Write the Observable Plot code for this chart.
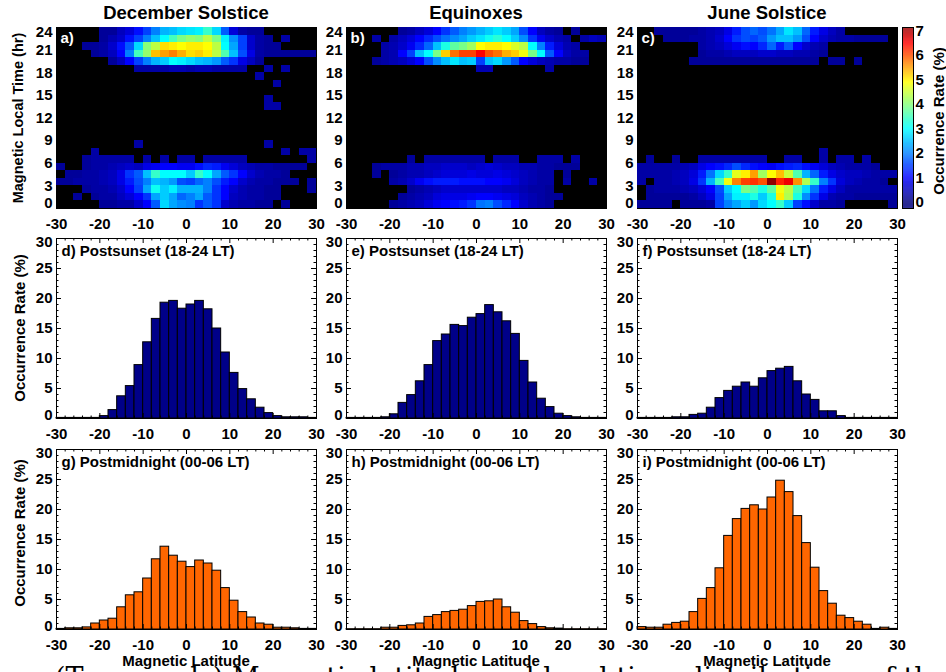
<!DOCTYPE html>
<html><head><meta charset="utf-8">
<script src="https://cdn.jsdelivr.net/npm/d3@7"></script>
<script src="https://cdn.jsdelivr.net/npm/@observablehq/plot@0.6"></script>
<style>
html,body{margin:0;padding:0;background:#fff;}
body{width:946px;height:672px;overflow:hidden;position:relative;}
#root{position:relative;width:946px;height:672px;overflow:hidden;}
.lbl{position:absolute;font-family:"Liberation Sans",Arial,sans-serif;font-weight:bold;line-height:1;white-space:nowrap;color:#000;transform:translate(-50%,-50%);}
.cap{position:absolute;font-family:"DejaVu Serif","Liberation Serif",serif;line-height:1;white-space:nowrap;color:#000;}
</style></head><body><div id="root"></div>
<script>
// ---------------- data ----------------
const latBins = [-30,-28,-26,-24,-22,-20,-18,-16,-14,-12,-10,-8,-6,-4,-2,0,2,4,6,8,10,12,14,16,18,20,22,24,26,28];
const latTicks = [-30,-20,-10,0,10,20,30];
const mltTicks = [0,3,6,9,12,15,18,21,24];
const rateTicks = [0,5,10,15,20,25,30];
const cbTicks = [0,1,2,3,4,5,6,7];
const seasons = ["December Solstice","Equinoxes","June Solstice"];
const mapLabels = ["a)","b)","c)"];
const sunsetLabels = ["d) Postsunset (18-24 LT)","e) Postsunset (18-24 LT)","f) Postsunset (18-24 LT)"];
const midnightLabels = ["g) Postmidnight (00-06 LT)","h) Postmidnight (00-06 LT)","i) Postmidnight (00-06 LT)"];

// occurrence rate (%) per 2-degree magnetic latitude bin
const postsunsetDec = [0.1,0.1,0.1,0.1,0.1,0.4,1.4,3.7,5.4,8.9,12.7,16.6,19.3,19.6,18.3,19.0,19.6,18.2,15.0,11.0,7.6,4.9,3.2,1.8,0.9,0.4,0.2,0.2,0.2,0.1];
const postsunsetEqx = [0.1,0.1,0.1,0.1,0.2,0.7,2.6,3.9,6.2,8.9,12.9,14.0,15.6,15.4,16.8,17.4,18.9,17.7,16.2,14.1,9.6,6.0,3.3,1.9,0.8,0.4,0.2,0.1,0.1,0.1];
const postsunsetJun = [0.1,0.1,0.1,0.1,0.2,0.2,0.6,0.8,1.8,3.4,4.6,5.3,6.0,5.3,6.7,7.9,8.3,8.6,6.2,4.0,3.1,1.2,1.2,0.4,0.1,0.1,0.1,0.1,0.1,0.1];
const postmidnightDec = [0.1,0.2,0.2,0.35,1.0,1.5,1.8,3.7,5.7,6.2,8.5,11.7,13.8,12.3,11.3,10.4,11.5,11.0,9.8,6.9,4.8,2.9,2.0,1.0,0.8,0.3,0.3,0.2,0.1,0.1];
const postmidnightEqx = [0.05,0.05,0.05,0.05,0.3,0.3,0.6,0.7,1.0,2.1,2.4,2.9,3.1,3.3,3.9,4.6,4.7,5.0,3.7,2.8,1.4,0.9,0.4,0.2,0.15,0.05,0.05,0.05,0.05,0.05];
const postmidnightJun = [0.4,0.3,0.3,0.8,1.1,1.3,2.9,5.1,6.9,10.2,15.6,18.4,20.1,20.7,20.0,22.0,24.8,22.9,18.9,14.4,10.3,6.4,4.3,2.3,1.9,1.3,0.8,0.1,0.3,0.1];

// occurrence rate (%) maps: [MLT hour bin, values per latitude bin]; 0 = no data
const decSolsticeMap = [
 [23,[0,0,0,0,0,0.2,0.2,0.5,0.7,1.1,1.5,2.0,2.4,2.5,2.7,2.8,2.9,3.4,2.7,1.7,0.7,0.3,0.2,0.2,0,0,0,0,0,0]],
 [22,[0,0,0,0,0,0.2,0.4,0.6,1.1,1.5,2.0,2.5,3.0,3.5,3.9,4.1,4.0,4.4,3.9,2.9,2.1,1.5,0.6,0.3,0.2,0,0.3,0,0,0]],
 [21,[0,0,0,0.2,0.2,0.3,0.6,1.1,1.7,2.7,4.0,4.4,5.1,5.0,4.9,5.0,5.0,4.9,4.4,3.0,2.3,1.5,0.6,0.3,0.2,0.2,0,0,0,0]],
 [20,[0,0,0,0,0.2,0.3,0.5,1.0,2.0,3.5,4.1,5.3,5.5,5.7,5.4,5.1,5.2,5.0,4.4,3.6,2.5,1.6,0.8,0.3,0.2,0.2,0.2,0.2,0.2,0.2]],
 [19,[0,0,0,0,0,0,0.2,0.5,1.0,1.5,2.0,2.4,2.6,3.0,2.9,2.7,2.5,2.4,2.2,1.7,1.4,0.8,0.5,0.2,0,0,0,0,0,0]],
 [18,[0,0,0,0,0,0,0,0,0,0.3,0.3,0.3,0.3,0.4,0.4,0.3,0.4,0.4,0.3,0.3,0.3,0.3,0,0,0.3,0,0.3,0,0,0]],
 [17,[0,0,0,0,0,0,0,0,0,0,0,0,0,0,0,0,0,0,0,0,0,0,0,0.3,0,0,0,0,0,0]],
 [16,[0,0,0,0,0,0,0,0,0,0,0,0,0,0,0,0,0,0,0,0,0,0,0,0,0,0.3,0,0,0,0]],
 [14,[0,0,0,0,0,0,0,0,0,0,0,0,0,0,0,0,0,0,0,0,0,0,0,0,0.3,0,0,0,0,0]],
 [13,[0,0,0,0,0,0,0,0,0,0,0,0,0,0,0,0,0,0,0,0,0,0,0,0,0.3,0.3,0,0,0,0]],
 [8,[0,0,0,0,0,0,0,0,0,0.3,0,0,0,0,0,0,0,0,0,0,0,0,0,0,0.3,0,0,0,0,0]],
 [7,[0,0,0,0,0.3,0,0,0,0,0,0,0,0,0,0,0,0,0,0,0,0,0,0,0,0,0,0.3,0,0.3,0.3]],
 [6,[0,0,0,0.2,0.3,0.3,0.3,0.3,0.3,0,0.3,0,0.3,0,0.3,0.3,0,0.3,0.3,0.3,0.3,0.3,0,0,0,0,0,0,0,0.3]],
 [5,[0.2,0,0,0.2,0.3,0.3,0.4,0.5,0.6,0.5,0.8,0.9,1.0,1.0,0.9,0.9,1.1,1.3,1.2,0.9,0.7,0.5,0.4,0.3,0.3,0.2,0.2,0.2,0.2,0]],
 [4,[0,0.2,0.2,0.3,0.3,0.4,0.5,0.8,1.4,1.7,2.5,3.4,3.0,3.0,3.0,2.6,3.4,3.0,2.3,1.7,1.4,1.0,0.6,0.4,0.3,0.3,0.2,0,0,0]],
 [3,[0.2,0.2,0.3,0.3,0.3,0.4,0.5,0.8,1.2,1.6,2.0,2.5,2.4,2.2,1.6,1.5,1.8,2.0,1.6,1.2,1.0,0.6,0.4,0.3,0.3,0.2,0.2,0.2,0,0.2]],
 [2,[0,0,0,0.2,0.3,0.3,0.4,0.6,1.0,1.5,2.3,3.1,2.6,2.9,2.4,2.4,2.4,2.0,1.4,1.0,0.6,0.4,0.3,0.3,0.2,0.2,0,0,0,0.2]],
 [1,[0,0,0.2,0,0.2,0.3,0.3,0.5,0.7,1.0,1.4,2.3,2.6,2.3,1.8,2.0,2.3,1.7,1.4,1.0,0.5,0.4,0.3,0.3,0.2,0.2,0,0,0,0]],
 [0,[0,0,0,0,0,0.2,0.2,0.3,0.3,0.6,1.0,1.7,2.7,2.3,2.1,2.0,1.4,1.7,1.4,0.6,0.4,0.3,0.3,0.2,0.2,0,0.2,0,0,0]]
];
const equinoxMap = [
 [23,[0,0,0,0,0,0,0.2,0.3,0.5,0.7,1.0,1.4,1.7,2.0,2.2,2.4,2.6,2.8,2.6,2.3,1.6,1.0,0.5,0.3,0.2,0,0.2,0,0,0]],
 [22,[0,0,0,0.3,0,0.3,0.5,0.7,1.0,1.3,1.6,1.9,2.1,2.3,2.6,2.8,3.1,3.3,3.0,2.6,2.1,1.4,0.9,0.6,0.4,0.3,0,0.3,0.5,0.4]],
 [21,[0,0,0,0,0.3,0.4,0.6,0.9,1.3,1.8,2.5,3.2,3.7,3.9,4.2,4.9,5.0,5.0,4.9,4.6,4.4,3.0,2.0,1.2,0.7,0.4,0.3,0,0,0]],
 [20,[0,0,0,0,0.3,0.4,1.0,1.5,2.5,3.0,3.9,5.2,5.8,6.1,6.1,6.5,6.0,5.8,5.4,5.2,4.8,3.9,3.0,1.7,1.0,0.5,0.3,0.3,0,0]],
 [19,[0,0,0,0.2,0.3,0.4,0.5,0.7,1.0,1.6,2.1,2.5,2.8,2.5,2.6,1.5,2.5,2.7,2.2,1.7,1.0,0.7,0.5,0.4,0.3,0.3,0.2,0.2,0,0]],
 [18,[0,0,0,0,0,0,0,0,0,0,0,0,0,0,0,0.4,0.4,0,0,0,0,0,0,0.3,0,0,0,0,0,0]],
 [6,[0,0,0,0,0,0,0,0.2,0,0.3,0.3,0.3,0.3,0.3,0.3,0.3,0,0.3,0.3,0.3,0,0,0.3,0.3,0.3,0,0.3,0,0,0]],
 [5,[0,0,0,0.2,0.3,0.3,0.3,0.4,0.4,0.5,0.5,0.6,0.6,0.6,0.5,0.6,0.7,0.6,0.5,0.5,0.4,0.4,0.3,0.3,0.2,0.2,0.2,0,0,0]],
 [4,[0,0,0,0.2,0,0.2,0.3,0.4,0.4,0.5,0.6,0.7,0.7,0.7,0.8,0.7,0.7,0.8,0.7,0.6,0.5,0.4,0.3,0.3,0,0.2,0,0,0,0]],
 [3,[0,0,0,0,0,0.3,0.4,0.6,0.9,1.1,1.2,1.2,1.2,1.1,1.1,1.1,1.0,1.0,0.9,0.7,0.5,0.4,0.3,0.3,0,0.3,0,0,0.3,0]],
 [2,[0,0,0,0,0,0,0,0.2,0.3,0.4,0.5,0.6,0.6,0.6,0.6,0.6,0.6,0.6,0.5,0.5,0.4,0.3,0.3,0.2,0,0,0,0,0,0]],
 [1,[0,0,0,0,0,0,0.2,0.3,0.4,0.5,0.7,0.8,0.8,0.8,0.9,1.0,1.0,0.9,0.8,0.7,0.5,0.4,0.3,0.2,0.2,0,0,0,0,0]],
 [0,[0,0,0,0,0,0.2,0.3,0.4,0.5,0.7,0.9,1.0,1.1,1.2,1.4,1.9,2.0,1.6,1.3,1.0,0.6,0.4,0.3,0.2,0,0,0,0,0,0]]
];
const junSolsticeMap = [
 [23,[0,0,0.2,0.2,0.2,0.2,0.2,0.3,0.4,0.5,0.8,1.2,1.6,1.8,1.6,1.9,2.3,2.8,2.5,1.8,1.2,0.8,0.5,0.3,0,0,0,0,0,0]],
 [22,[0,0,0,0.2,0.2,0.2,0.3,0.3,0.4,0.6,1.0,1.4,1.6,1.5,1.7,2.2,2.5,2.5,2.2,1.6,1.0,0.6,0.4,0.3,0.3,0.2,0.2,0.2,0.2,0]],
 [21,[0,0,0,0,0,0,0,0.3,0.4,0.5,0.7,0.9,1.1,1.0,1.3,1.8,1.2,1.7,1.0,0.6,0.4,0.3,0,0,0,0,0,0,0,0]],
 [20,[0,0,0,0,0,0,0,0.2,0.3,0.3,0.4,0.5,0.5,0.5,0.6,0.6,0.5,0.5,0.4,0.4,0.3,0.2,0,0,0,0,0,0,0,0]],
 [19,[0,0,0,0,0,0,0.2,0.2,0.2,0.2,0.2,0.2,0.2,0.2,0.2,0.2,0.2,0.2,0.2,0.2,0.2,0,0.2,0.2,0,0.2,0,0,0,0]],
 [7,[0,0,0,0,0,0,0,0,0,0,0,0,0,0,0,0,0,0,0,0,0,0.3,0,0,0,0,0,0,0,0]],
 [6,[0,0.2,0,0,0.2,0,0,0.3,0.3,0.3,0.3,0.3,0.3,0.3,0.3,0,0,0.3,0.3,0,0,0.3,0,0.3,0.3,0,0.3,0,0,0]],
 [5,[0.3,0.3,0.3,0.3,0.3,0.4,0.5,0.8,1.0,1.1,1.3,1.6,1.3,1.1,1.0,0.9,1.1,1.2,1.3,1.1,0.9,0.7,0.5,0.4,0.3,0.3,0.3,0.2,0,0]],
 [4,[0.3,0.3,0.3,0.3,0.4,0.5,0.7,1.2,1.9,2.7,3.4,4.7,5.0,5.5,4.2,4.9,5.3,4.5,3.6,2.4,1.8,1.2,0.8,0.6,0.5,0.5,0.4,0.3,0.3,0.3]],
 [3,[0.3,0,0.3,0.3,0.4,0.5,0.8,1.4,2.4,3.5,4.8,5.7,6.1,6.2,6.0,7.2,6.3,6.6,5.6,4.3,3.4,2.0,1.4,0.7,0.5,0.4,0.3,0.3,0.2,0]],
 [2,[0,0.2,0.3,0.3,0.3,0.4,0.5,0.7,1.0,1.6,2.6,3.0,3.9,3.6,3.2,3.7,4.8,4.4,3.5,2.7,1.9,1.2,0.8,0.5,0.3,0.3,0.3,0.3,0.3,0.3]],
 [1,[0,0.2,0.2,0.2,0.2,0.2,0.3,0.5,0.8,1.5,2.3,2.9,2.9,3.2,2.6,3.2,5.0,4.3,3.2,2.1,1.4,0.8,0.4,0.3,0.3,0.2,0.2,0.2,0.2,0.2]],
 [0,[0.2,0.2,0.2,0.2,0,0.2,0.2,0.2,0.3,1.5,2.0,2.3,2.6,2.2,2.7,3.0,3.4,2.6,1.5,1.1,0.6,0.3,0.3,0.2,0,0,0,0,0,0.2]]
];

const maps = [decSolsticeMap, equinoxMap, junSolsticeMap];
const sunsets = [postsunsetDec, postsunsetEqx, postsunsetJun];
const midnights = [postmidnightDec, postmidnightEqx, postmidnightJun];

// ---------------- styling / layout ----------------
const jetStops = [0,1,2,3,3.95,4.9,5.7,6.5,7.3];
const jetColors = ["#00007f","#0000ff","#0080ff","#00ffff","#80ff80","#ffff00","#ff8000","#ff0000","#7f0000"];
const colorScale = {type:"linear", domain: jetStops, range: jetColors, interpolate: "rgb", clamp: true};
const FONT = "'Liberation Sans', Arial, Helvetica, sans-serif";
const M = {left: 40, right: 6, top: 6, bottom: 26};
const colX = [56, 346, 637];
const PW = 260;
const rowY = [27, 238, 449];
const rowH = [181, 180, 180];
const root = document.getElementById("root");

function style() {
  return {fontFamily: FONT, fontSize: "15px", fontWeight: "bold", color: "black", background: "transparent", overflow: "visible"};
}
function place(svg, fx, fy, ml, mt) {
  svg.style.position = "absolute";
  svg.style.left = (fx - ml) + "px";
  svg.style.top = (fy - mt) + "px";
  root.appendChild(svg);
}
function label(text, cx, cy, size, rotate) {
  const d = document.createElement("div");
  d.className = "lbl";
  d.textContent = text;
  d.style.left = cx + "px";
  d.style.top = cy + "px";
  d.style.fontSize = size + "px";
  if (rotate) d.style.transform = "translate(-50%,-50%) rotate(" + rotate + "deg)";
  root.appendChild(d);
}
const fmt = d => String(d);

function heatPanel(rows, lab, fx) {
  const cells = rows.flatMap(([h, vals]) =>
    vals.map((v, i) => ({lat0: latBins[i], lat1: latBins[i] + 2, h0: h, h1: h + 1, v})).filter(d => d.v > 0));
  const svg = Plot.plot({
    width: PW + M.left + M.right, height: rowH[0] + M.top + M.bottom,
    marginLeft: M.left, marginRight: M.right, marginTop: M.top, marginBottom: M.bottom,
    x: {domain: [-30, 30]}, y: {domain: [0, 24]},
    color: colorScale,
    style: style(),
    marks: [
      Plot.frame({fill: "black", stroke: "black"}),
      Plot.rect(cells, {x1: "lat0", x2: "lat1", y1: "h0", y2: "h1", fill: "v", shapeRendering: "crispEdges"}),
      Plot.axisX(latTicks, {tickSize: 0, tickPadding: 10, tickFormat: fmt, label: null}),
      Plot.axisY(mltTicks.slice(1, -1), {tickSize: 0, tickPadding: 4, tickFormat: fmt, label: null}),
      Plot.axisY(mltTicks.slice(0, 1), {tickSize: 0, tickPadding: 4, tickFormat: fmt, label: null, dy: -5}),
      Plot.axisY(mltTicks.slice(-1), {tickSize: 0, tickPadding: 4, tickFormat: fmt, label: null, dy: 5}),
      Plot.text([lab], {frameAnchor: "top-left", dx: 4, dy: 5, lineAnchor: "top", textAnchor: "start", fill: "white"})
    ]
  });
  place(svg, fx, rowY[0], M.left, M.top);
}

function histPanel(vals, lab, fx, r, color) {
  const bars = vals.map((v, i) => ({lat0: latBins[i], lat1: latBins[i] + 2, v}));
  const h = rowH[r];
  const pxX = PW / 60, pxY = h / 30;
  const majX = 5 / pxY, minX = 2.5 / pxY, majY = 5 / pxX, minY = 2.5 / pxX;
  const minorLat = d3.range(-30, 31, 2).filter(d => d % 10 !== 0);
  const minorRate = d3.range(0, 31, 1).filter(d => d % 5 !== 0);
  const svg = Plot.plot({
    width: PW + M.left + M.right, height: h + M.top + M.bottom,
    marginLeft: M.left, marginRight: M.right, marginTop: M.top, marginBottom: M.bottom,
    x: {domain: [-30, 30]}, y: {domain: [0, 30]},
    style: style(),
    marks: [
      Plot.rectY(bars, {x1: "lat0", x2: "lat1", y: "v", fill: color, stroke: "black", strokeWidth: 1}),
      Plot.ruleX(latTicks, {x: d => d, y1: 0, y2: majX, stroke: "black"}),
      Plot.ruleX(latTicks, {x: d => d, y1: 30 - majX, y2: 30, stroke: "black"}),
      Plot.ruleX(minorLat, {x: d => d, y1: 0, y2: minX, stroke: "black"}),
      Plot.ruleX(minorLat, {x: d => d, y1: 30 - minX, y2: 30, stroke: "black"}),
      Plot.ruleY(rateTicks, {y: d => d, x1: -30, x2: -30 + majY, stroke: "black"}),
      Plot.ruleY(rateTicks, {y: d => d, x1: 30 - majY, x2: 30, stroke: "black"}),
      Plot.ruleY(minorRate, {y: d => d, x1: -30, x2: -30 + minY, stroke: "black"}),
      Plot.ruleY(minorRate, {y: d => d, x1: 30 - minY, x2: 30, stroke: "black"}),
      Plot.frame({stroke: "black"}),
      Plot.axisX(latTicks, {tickSize: 0, tickPadding: 10, tickFormat: fmt, label: null}),
      Plot.axisY(rateTicks.slice(1, -1), {tickSize: 0, tickPadding: 4, tickFormat: fmt, label: null}),
      Plot.axisY(rateTicks.slice(0, 1), {tickSize: 0, tickPadding: 4, tickFormat: fmt, label: null, dy: -3}),
      Plot.axisY(rateTicks.slice(-1), {tickSize: 0, tickPadding: 4, tickFormat: fmt, label: null, dy: 4}),
      Plot.text([lab], {frameAnchor: "top-left", dx: 5, dy: 7, lineAnchor: "top", textAnchor: "start", fill: "black"})
    ]
  });
  place(svg, fx, rowY[r], M.left, M.top);
}

function colorbar() {
  const steps = d3.range(-0.26, 7.15, 0.02);
  const ml = 1, mr = 24, mt = 6, mb = 6;
  const svg = Plot.plot({
    width: 11 + ml + mr, height: rowH[0] + mt + mb,
    marginLeft: ml, marginRight: mr, marginTop: mt, marginBottom: mb,
    x: {domain: [0, 1], axis: null}, y: {domain: [-0.26, 7.15]},
    color: colorScale,
    style: style(),
    marks: [
      Plot.rect(steps, {x1: 0, x2: 1, y1: d => d, y2: d => Math.min(d + 0.025, 7.15), fill: d => d + 0.01}),
      Plot.frame({stroke: "black"}),
      Plot.axisY(cbTicks, {anchor: "right", tickSize: 0, tickPadding: 2, tickFormat: fmt, label: null})
    ]
  });
  place(svg, 902, rowY[0], ml, mt);
}

for (let k = 0; k < 3; k++) {
  heatPanel(maps[k], mapLabels[k], colX[k]);
  histPanel(sunsets[k], sunsetLabels[k], colX[k], 1, "#000088");
  histPanel(midnights[k], midnightLabels[k], colX[k], 2, "#ff6600");
  label(seasons[k], colX[k] + PW / 2, 13, 18.5);
  label("Magnetic Latitude", colX[k] + PW / 2, 660, 15);
}
colorbar();
label("Magnetic Local Time (hr)", 18, 118, 14.5, -90);
label("Occurrence Rate (%)", 19, 328, 15, -90);
label("Occurrence Rate (%)", 19, 533, 15, -90);
label("Occurrence Rate (%)", 938, 121, 15, -90);

const cap = document.createElement("div");
cap.className = "cap";
cap.textContent = "(Top panels) Magnetic latitude and local time distributions of the";
cap.style.left = "55px";
cap.style.top = "664px";
cap.style.fontSize = "27px";
root.appendChild(cap);
</script></body></html>
